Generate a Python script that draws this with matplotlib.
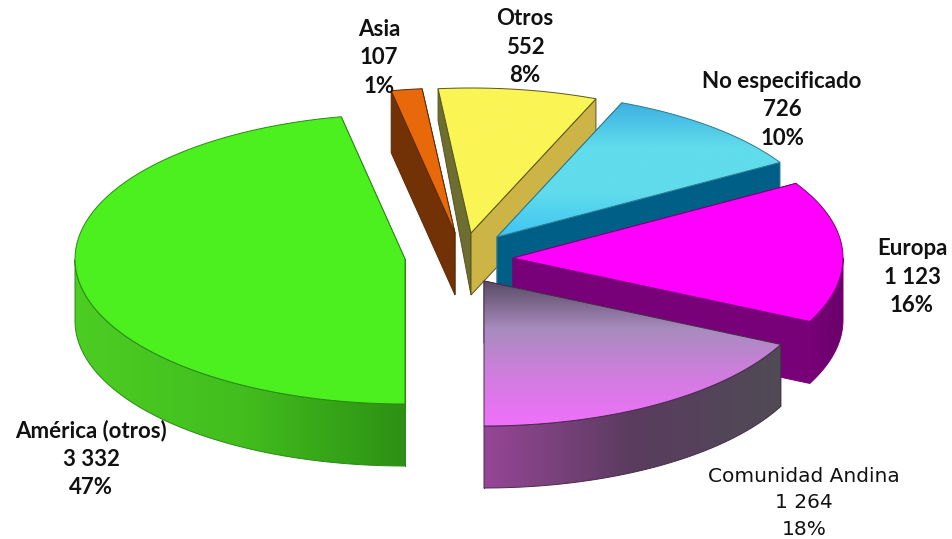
import numpy as np
import matplotlib
matplotlib.use('Agg')
import matplotlib.pyplot as plt
from matplotlib.colors import LinearSegmentedColormap
from matplotlib.patches import Polygon

# data
names = ['América (otros)', 'Asia', 'Otros', 'No especificado', 'Europa', 'Comunidad Andina']
values = [3332, 107, 552, 726, 1123, 1264]
value_labels = ['3 332', '107', '552', '726', '1 123', '1 264']
pct_labels = ['47%', '1%', '8%', '10%', '16%', '18%']

# exploded centre of every slice, in pixels
centers = [(405, 259), (455, 233), (471, 233), (497, 237), (513, 258), (484, 281)]
label_pos = [(91, 459), (379, 58), (525, 47), (782, 110), (912, 277), (804, 503)]

# colours: top face stops (vertical), outer wall stops (horizontal), left wall, right wall, outline
top_cols = [['#4cf01e', '#4cf01e'],
            ['#e8690a', '#e8690a'],
            ['#faf555', '#faf555'],
            ['#3cb0e2', '#60dcec', '#60dcec', '#40c4f4'],
            ['#ff00ff', '#ff00ff'],
            ['#5a4b64', '#a88cbe', '#d27ce0', '#f070fa']]
wall_cols = [['#4ccd23', '#42be1e', '#2d9114'],
             ['#733205', '#733205'],
             ['#cdb446', '#cdb446'],
             ['#005a82', '#005a82'],
             ['#780078', '#6a006a'],
             ['#964696', '#5a3c5f', '#504b55']]
left_cols = ['#329614', '#733205', '#6e6e32', '#005a82', '#780078', '#964696']
right_cols = ['#329614', '#733205', '#cdb446', '#005f87', '#780078', '#504b55']
line_cols = ['#2a8a14', '#5a2a05', '#55551e', '#2a7a90', '#780078', '#4a2a50']
left_drop = [62, 62, 32, 62, 62, 62]

A = 330
B = 145
T = 62


def rim(cx, cy, a0, a1):
    th = np.radians(np.linspace(a0, a1, 80))
    return np.column_stack([cx + A * np.cos(th), cy - B * np.sin(th)])


def fill(ax, pts, cols, horizontal=False, edge=None):
    x0, y0 = pts.min(axis=0)
    x1, y1 = pts.max(axis=0)
    cmap = LinearSegmentedColormap.from_list('g', cols)
    grad = np.linspace(0, 1, 256).reshape(1, -1) if horizontal else np.linspace(0, 1, 256).reshape(-1, 1)
    im = ax.imshow(grad, cmap=cmap, extent=[x0, x1, y1, y0], aspect='auto', interpolation='bilinear', zorder=ax.z)
    poly = Polygon(pts, closed=True, transform=ax.transData, fc='none', ec=edge or 'none', lw=0.7, zorder=ax.z + 0.5)
    ax.add_patch(poly)
    im.set_clip_path(poly)
    ax.z += 1


fig = plt.figure(figsize=(9.52, 5.39), dpi=100)
ax = fig.add_axes([0, 0, 1, 1])
ax.z = 1

total = sum(values)
angle = 270.0
for i in range(len(values)):
    a_hi = angle
    a_lo = angle - values[i] / total * 360
    angle = a_lo
    cx, cy = centers[i]
    r = rim(cx, cy, a_hi, a_lo)
    drop = np.array([0, T])

    # straight walls first, then the round wall (front half only), top last
    p_lo = np.array([[cx, cy], r[-1], r[-1] + drop, [cx, cy + T]])
    p_hi = np.array([[cx, cy], r[0], r[0] + [0, left_drop[i]], [cx, cy + T]])
    if r[-1, 0] < cx:
        fill(ax, p_lo, [right_cols[i], right_cols[i]], edge=line_cols[i])
        fill(ax, p_hi, [left_cols[i], left_cols[i]], edge=line_cols[i])
    else:
        fill(ax, p_hi, [left_cols[i], left_cols[i]], edge=line_cols[i])
        fill(ax, p_lo, [right_cols[i], right_cols[i]], edge=line_cols[i])
    front = r[(cy - r[:, 1]) <= 0]
    if len(front) > 1:
        fill(ax, np.vstack([front, (front + drop)[::-1]]), wall_cols[i], horizontal=True, edge=line_cols[i])
    fill(ax, np.vstack([[cx, cy], r]), top_cols[i], edge=line_cols[i])

for i in range(len(names)):
    bold = i != 5
    ax.text(label_pos[i][0], label_pos[i][1], names[i] + '\n' + value_labels[i] + '\n' + pct_labels[i],
            ha='center', va='center', multialignment='center', linespacing=1.42 if bold else 1.53, zorder=100,
            family='Lato' if bold else 'DejaVu Sans', fontweight='bold' if bold else 'normal',
            fontsize=16 if bold else 14.5, color='#111111')

ax.set_xlim(0, 952)
ax.set_ylim(539, 0)
ax.axis('off')
fig.savefig('out.png', dpi=100, facecolor='white')
